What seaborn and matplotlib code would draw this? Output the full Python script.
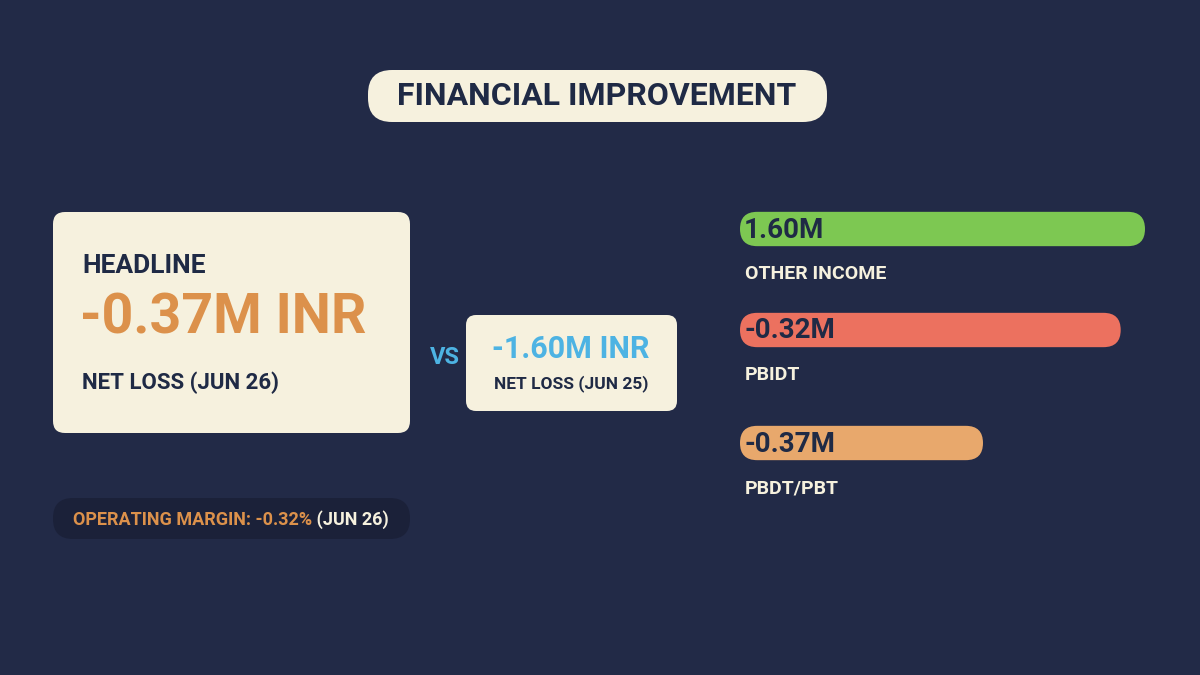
import matplotlib
matplotlib.use("Agg")
import matplotlib.pyplot as plt
from matplotlib.patches import FancyBboxPatch
import pandas as pd
import seaborn as sns

# data
title = "FINANCIAL IMPROVEMENT"
headline_value = "-0.37M INR"
headline_label = "NET LOSS (JUN 26)"
compare_value = "-1.60M INR"
compare_label = "NET LOSS (JUN 25)"
margin_text = "OPERATING MARGIN: -0.32%"
margin_period = " (JUN 26)"
bar_names = ["OTHER INCOME", "PBIDT", "PBDT/PBT"]
bar_labels = ["1.60M", "-0.32M", "-0.37M"]
bar_extent = [1.00, 0.94, 0.60]   # bar lengths as drawn in the picture
bar_rows = [229, 330, 443]

BG = "#222a47"
CREAM = "#f6f1de"
NAVY = "#1f2a45"
ORANGE = "#dc914b"
BLUE = "#4db3e3"
bar_colors = ["#7dc852", "#ec715f", "#e8a86c"]

sns.set_theme(style="white")
plt.rcParams["font.family"] = ["Roboto", "DejaVu Sans"]

fig = plt.figure(figsize=(12, 6.75), dpi=100)
fig.patch.set_facecolor(BG)
ax = fig.add_axes([0, 0, 1, 1])
ax.set_xlim(0, 1200)
ax.set_ylim(675, 0)
ax.axis("off")


def card(x0, y0, x1, y1, color, r):
    ax.add_patch(FancyBboxPatch((x0 + r, y0 + r), x1 - x0 - 2 * r, y1 - y0 - 2 * r,
                                boxstyle=f"round,pad={r}", fc=color, ec="none", zorder=1))


# title pill
card(368, 70, 827, 122, CREAM, 24)
ax.text(597, 96, title, ha="center", va="center", fontsize=23, weight="bold", color=NAVY)

# headline card
card(53, 212, 410, 433, CREAM, 12)
ax.text(82, 266, "HEADLINE", ha="left", va="center", fontsize=19, weight="bold", color=NAVY)
ax.text(80, 318, headline_value, ha="left", va="center", fontsize=40, weight="bold", color=ORANGE)
ax.text(82, 383, headline_label, ha="left", va="center", fontsize=16, weight="bold", color=NAVY)

# vs
ax.text(445, 357, "VS", ha="center", va="center", fontsize=17, weight="bold", color=BLUE)
card(466, 315, 677, 411, CREAM, 10)
ax.text(571, 349, compare_value, ha="center", va="center", fontsize=22, weight="bold", color=BLUE)
ax.text(571, 384, compare_label, ha="center", va="center", fontsize=12.5, weight="bold", color=NAVY)

# margin pill
card(53, 498, 410, 539, "#1b2139", 20)
t = ax.text(73, 520, margin_text, ha="left", va="center", fontsize=13, weight="bold", color=ORANGE)
fig.canvas.draw()
bb = t.get_window_extent()
ax.text(73 + bb.width, 520, margin_period, ha="left", va="center", fontsize=13,
        weight="bold", color=CREAM)

# bars via seaborn in an inset axis spanning the bar region
x0, x1, y0, y1 = 740, 1145, 190, 480
bax = fig.add_axes([x0 / 1200, 1 - y1 / 675, (x1 - x0) / 1200, (y1 - y0) / 675])
df = pd.DataFrame({"extent": bar_extent, "row": bar_rows, "name": bar_names})
sns.barplot(data=df, x="extent", y="row", hue="name", palette=bar_colors, orient="h",
            native_scale=True, width=0.34, legend=False, ax=bax)
bax.set_xlim(0, 1)
bax.set_ylim(y1, y0)
bax.axis("off")
fig.canvas.draw()
inv = ax.transData.inverted()
for p, lab, name, col in zip(list(bax.patches), bar_labels, bar_names, bar_colors):
    ext = p.get_window_extent()
    (px0, py0), (px1, py1) = inv.transform([[ext.x0, ext.y0], [ext.x1, ext.y1]])
    top, bot = min(py0, py1), max(py0, py1)
    h = bot - top
    r = h / 2
    ax.add_patch(FancyBboxPatch((px0 + r, top + r), px1 - px0 - 2 * r, 0.001,
                                boxstyle=f"round,pad={r - 0.0005}", fc=col, ec="none", zorder=2))
    p.set_visible(False)
    ax.text(px0 + 4, top + h / 2 + 1, lab, ha="left", va="center", fontsize=20,
            weight="bold", color=NAVY, zorder=3)
    ax.text(px0 + 5, bot + 28, name, ha="left", va="center", fontsize=14,
            weight="bold", color=CREAM)

fig.savefig("out.png", dpi=100, facecolor=BG)
